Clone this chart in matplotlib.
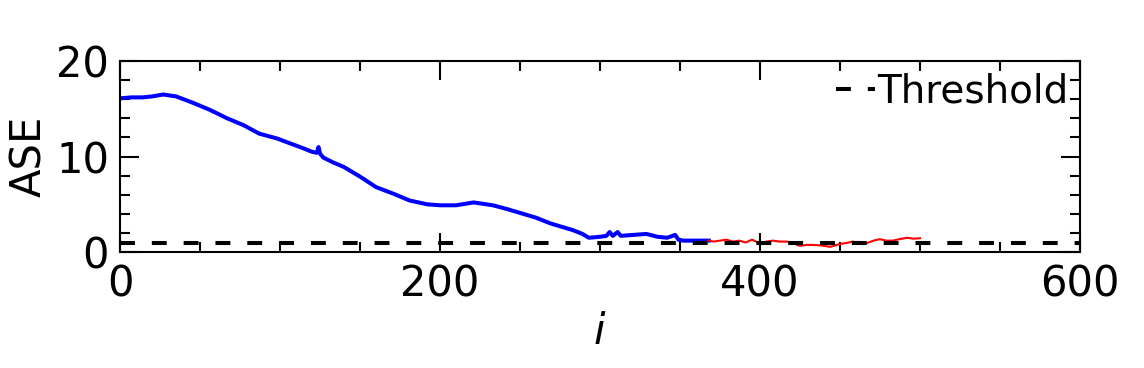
import matplotlib
matplotlib.use("Agg")
import matplotlib.pyplot as plt
from matplotlib.ticker import MultipleLocator

# values
blue_i = [0, 7, 14, 20, 27, 35, 46, 56, 67, 77, 87, 98, 106, 114, 120, 123, 124, 125,
          127, 133, 140, 150, 160, 171, 181, 192, 200, 210, 221, 233, 242, 250, 260,
          269, 277, 283, 289, 293, 300, 304, 306, 308, 311, 313, 321, 329, 336, 342,
          347, 349, 352, 360, 368]
blue_ase = [16.1, 16.2, 16.2, 16.3, 16.5, 16.3, 15.6, 14.9, 14.0, 13.3, 12.4, 11.9, 11.4,
            10.9, 10.5, 10.4, 11.0, 10.3, 9.9, 9.4, 8.9, 7.9, 6.8, 6.1, 5.4, 5.0, 4.9,
            4.9, 5.2, 4.9, 4.5, 4.1, 3.6, 3.0, 2.6, 2.3, 1.9, 1.5, 1.6, 1.7, 2.1, 1.7,
            2.1, 1.7, 1.8, 1.9, 1.6, 1.5, 1.8, 1.3, 1.2, 1.2, 1.2]

red_i = [368, 371, 375, 379, 383, 387, 391, 395, 400, 404, 408, 412, 417, 421, 425, 429,
         433, 438, 444, 447, 450, 454, 458, 462, 467, 471, 475, 479, 483, 487, 492, 496, 500]
red_ase = [1.2, 1.1, 1.2, 1.3, 1.1, 1.2, 1.0, 1.3, 0.9, 1.1, 1.2, 1.1, 1.1, 0.9, 0.65,
           0.75, 0.75, 0.7, 0.55, 0.7, 0.85, 0.95, 1.1, 0.95, 0.95, 1.2, 1.35, 1.2, 1.2,
           1.35, 1.5, 1.4, 1.45]

threshold = 1.0

plt.rcParams['font.family'] = 'DejaVu Sans'
fig = plt.figure(figsize=(11.44, 3.68), dpi=100)
ax = fig.add_axes([0.105, 0.315, 0.839, 0.519])

ax.plot(blue_i, blue_ase, color='blue', lw=2.9)
ax.plot(red_i, red_ase, color='red', lw=1.5)
ax.axhline(threshold, color='black', lw=2.9, dashes=(3.7, 4.2), label='Threshold')

ax.set_xlim(0, 600)
ax.set_ylim(0, 20)
ax.xaxis.set_major_locator(MultipleLocator(200))
ax.xaxis.set_minor_locator(MultipleLocator(50))
ax.yaxis.set_major_locator(MultipleLocator(10))
ax.yaxis.set_minor_locator(MultipleLocator(2))
ax.tick_params(which='both', direction='in', top=True, right=True, width=1.5,
               labelsize=30)
ax.tick_params(which='major', length=14, pad=8)
ax.tick_params(which='minor', length=7)
for s in ax.spines.values():
    s.set_linewidth(1.5)

ax.set_xlabel('$i$', fontsize=30)
ax.set_ylabel('ASE', fontsize=30)
ax.legend(loc='upper right', frameon=False, fontsize=28, handlelength=1.0,
          handletextpad=0.05, borderaxespad=0.0, borderpad=0.3)

fig.savefig('out.png', dpi=100)
